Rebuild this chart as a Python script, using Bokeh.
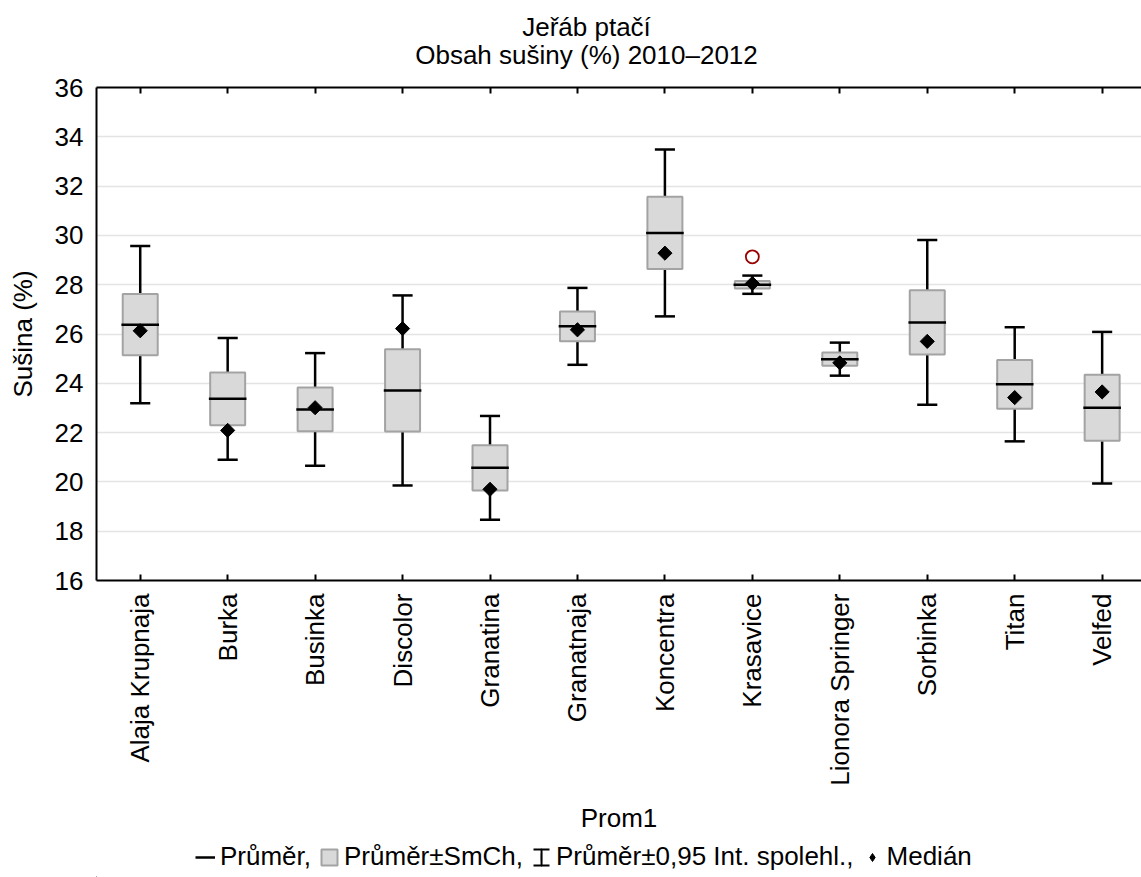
import math
from bokeh.plotting import figure
from bokeh.layouts import column
from bokeh.models import (Range1d, FixedTicker, LinearAxis, Legend, LegendItem,
                          Label, ColumnDataSource)
from bokeh.embed import file_html
from bokeh.resources import INLINE

# ---- data ----
categories = ["Alaja Krupnaja", "Burka", "Businka", "Discolor", "Granatina",
              "Granatnaja", "Koncentra", "Krasavice", "Lionora Springer",
              "Sorbinka", "Titan", "Velfed"]
mean = [26.38, 23.37, 22.94, 23.71, 20.57, 26.31, 30.10, 28.00, 24.98, 26.47, 23.96, 23.01]
se = [1.245, 1.07, 0.89, 1.67, 0.92, 0.605, 1.465, 0.15, 0.265, 1.30, 0.99, 1.34]
ci95 = [3.19, 2.47, 2.285, 3.855, 2.105, 1.56, 3.385, 0.37, 0.67, 3.34, 2.315, 3.075]
median = [26.13, 22.09, 23.01, 26.22, 19.70, 26.17, 29.28, 28.05, 24.83, 25.70, 23.42, 23.65]
outlier_category = ["Krasavice"]
outlier_value = [29.13]
y_ticks = [16, 18, 20, 22, 24, 26, 28, 30, 32, 34, 36]
title_lines = ["Jeřáb ptačí", "Obsah sušiny (%) 2010–2012"]
legend_labels = ["Průměr,", "Průměr±SmCh,", "Průměr±0,95 Int. spolehl.,", "Medián"]

FONT = "Liberation Sans"
FS = "26px"
W = 1141
TITLE_H, LEGEND_H = 70, 37
MAIN_H = 877 - TITLE_H - LEGEND_H

xpos = list(range(len(categories)))
BOX_W = 0.40
MEAN_HW = 0.215
CAP_HW = 0.115

src = ColumnDataSource(dict(
    x=xpos,
    mean=mean,
    median=median,
    se_lo=[m - s for m, s in zip(mean, se)],
    se_hi=[m + s for m, s in zip(mean, se)],
    ci_lo=[m - c for m, c in zip(mean, ci95)],
    ci_hi=[m + c for m, c in zip(mean, ci95)],
    m_x0=[x - MEAN_HW for x in xpos],
    m_x1=[x + MEAN_HW for x in xpos],
    c_x0=[x - CAP_HW for x in xpos],
    c_x1=[x + CAP_HW for x in xpos],
))


def blank_fig(h):
    # ranges chosen far away from the data so that no shared glyph shows in the strip
    f = figure(width=W, height=h, output_backend="svg", toolbar_location=None,
               x_range=Range1d(1000, 1001), y_range=Range1d(1000, 1001), min_border=0,
               x_axis_type=None, y_axis_type=None, title_location=None)
    f.outline_line_color = None
    f.background_fill_color = "white"
    f.border_fill_color = "white"
    return f


# ---- title strip (its frame is aligned with the main frame, x from frame left) ----
pt = blank_fig(TITLE_H)
for txt, yy in zip(title_lines, [44, 16]):
    pt.add_layout(Label(x=490, y=yy, x_units="screen", y_units="screen", text=txt,
                        text_align="center", text_baseline="alphabetic",
                        text_font=FONT, text_font_size=FS, text_color="black"))

# ---- main plot ----
p = figure(width=W, height=MAIN_H, output_backend="svg", toolbar_location=None,
           x_range=Range1d(-0.5, 11.45), y_range=Range1d(16, 36),
           min_border_left=96, min_border_right=0, min_border_top=17,
           min_border_bottom=260, title_location=None)
p.outline_line_color = None
p.background_fill_color = "white"
p.border_fill_color = "white"

xa = p.xaxis[0]
xa.ticker = FixedTicker(ticks=xpos)
xa.major_label_overrides = {i: c for i, c in enumerate(categories)}
xa.major_label_orientation = math.pi / 2
xa.major_tick_in = 6
xa.major_tick_out = 0
xa.major_tick_line_width = 2
xa.minor_tick_line_color = None
xa.axis_line_width = 2
xa.major_label_standoff = 13
xa.major_label_text_font = FONT
xa.major_label_text_font_size = FS
xa.major_label_text_color = "black"
xa.axis_label = "Prom1"
xa.axis_label_standoff = 14
xa.axis_label_text_font = FONT
xa.axis_label_text_font_size = FS
xa.axis_label_text_font_style = "normal"
xa.axis_label_text_color = "black"

ya = p.yaxis[0]
ya.ticker = FixedTicker(ticks=y_ticks)
ya.major_tick_in = 0
ya.major_tick_out = 0
ya.minor_tick_line_color = None
ya.axis_line_width = 2
ya.major_label_standoff = 13
ya.major_label_text_font = FONT
ya.major_label_text_font_size = FS
ya.major_label_text_color = "black"
ya.axis_label = "Sušina (%)"
ya.axis_label_standoff = 14
ya.axis_label_text_font = FONT
ya.axis_label_text_font_size = FS
ya.axis_label_text_font_style = "normal"
ya.axis_label_text_color = "black"

top = LinearAxis(ticker=FixedTicker(ticks=xpos), major_tick_in=6, major_tick_out=0,
                 major_tick_line_width=2, minor_tick_line_color=None,
                 axis_line_width=2, major_label_overrides={i: "" for i in xpos},
                 major_label_standoff=0, major_label_text_font_size="2px")
p.add_layout(top, "above")

p.xgrid.visible = False
p.ygrid.ticker = FixedTicker(ticks=y_ticks)
p.ygrid.grid_line_color = "#e4e4e4"
p.ygrid.grid_line_width = 1.5

p.segment(x0="x", y0="ci_lo", x1="x", y1="ci_hi", source=src,
          line_color="black", line_width=2.5)
p.segment(x0="c_x0", y0="ci_hi", x1="c_x1", y1="ci_hi", source=src,
          line_color="black", line_width=2.5)
p.segment(x0="c_x0", y0="ci_lo", x1="c_x1", y1="ci_lo", source=src,
          line_color="black", line_width=2.5)
p.vbar(x="x", width=BOX_W, bottom="se_lo", top="se_hi", source=src,
       fill_color="#d9d9d9", line_color="#a3a3a3", line_width=2)
p.segment(x0="m_x0", y0="mean", x1="m_x1", y1="mean", source=src,
          line_color="black", line_width=2.5)
p.scatter(x="x", y="median", source=src, marker="square", angle=math.pi / 4,
          size=10, fill_color="black", line_color="black")
p.scatter(x=[categories.index(c) for c in outlier_category], y=outlier_value,
          marker="circle", size=13, fill_color=None, line_color="#9b0000",
          line_width=1.8)

# ---- legend strip (key glyphs share the data; they fall outside this strip's ranges) ----
pl = blank_fig(LEGEND_H)
k_mean = pl.segment(x0="m_x0", y0="mean", x1="m_x1", y1="mean", source=src,
                    line_color="black", line_width=2.5)
k_box = pl.vbar(x="x", width=BOX_W, bottom="se_lo", top="se_hi", source=src,
                fill_color="#d9d9d9", line_color="#a3a3a3", line_width=2)
k_caps = pl.rect(x="x", y="mean", width=0, height=0, width_units="screen",
                 height_units="screen", source=src, fill_color=None,
                 line_color="black", line_width=2, line_dash="16 16")
k_stem = pl.ellipse(x="x", y="mean", width=0.01, height=1, width_units="screen",
                    height_units="screen", source=src, fill_color=None,
                    line_color="black", line_width=2)
k_med = pl.scatter(x="x", y="median", source=src, marker="diamond", size=0,
                   fill_color="black", line_color="black")

legend = Legend(items=[
    LegendItem(label=legend_labels[0], renderers=[k_mean]),
    LegendItem(label=legend_labels[1], renderers=[k_box]),
    LegendItem(label=legend_labels[2], renderers=[k_caps, k_stem]),
    LegendItem(label=legend_labels[3], renderers=[k_med]),
], orientation="horizontal", location=(99, 5), glyph_width=20, glyph_height=20,
    label_standoff=5, spacing=8, padding=0, margin=0,
    border_line_color=None, background_fill_alpha=0,
    label_text_font=FONT, label_text_font_size=FS, label_text_color="black")
pl.add_layout(legend)

layout = column(pt, p, pl, spacing=0)
open("out.html", "w").write(file_html(layout, INLINE))
